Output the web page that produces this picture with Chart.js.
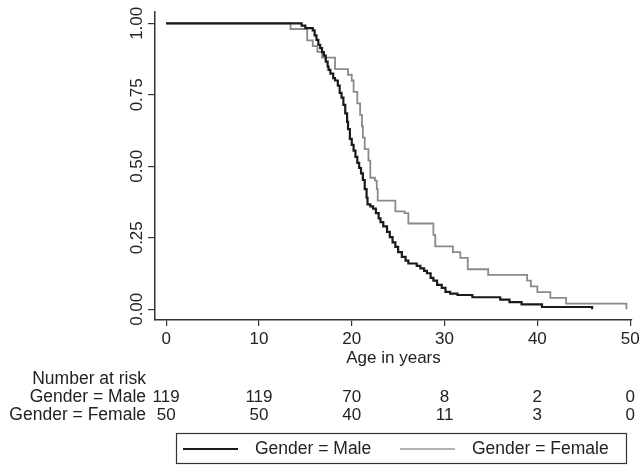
<!DOCTYPE html>
<html>
<head>
<meta charset="utf-8">
<script src="https://cdn.jsdelivr.net/npm/chart.js@4"></script>
<style>
  html, body { margin: 0; padding: 0; background: #fff; }
  #wrap { width: 640px; height: 468px; position: relative; }
</style>
</head>
<body>
<div id="wrap"><canvas id="myChart" width="640" height="468"></canvas></div>
<script>
// Kaplan-Meier steps (age in years, survival)
const maleTimes = [0, 14.6, 15.0, 15.8, 16.0, 16.2, 16.4, 16.6, 16.8, 17.0, 17.2, 17.4, 17.5, 17.7, 18.0, 18.2, 18.5, 18.7, 18.9, 19.1, 19.3, 19.5, 19.6, 19.8, 20.0, 20.2, 20.4, 20.6, 20.8, 21.0, 21.2, 21.4, 21.6, 21.7, 22.0, 22.3, 22.6, 22.9, 23.1, 23.4, 23.8, 24.1, 24.4, 24.7, 25.0, 25.4, 25.8, 26.1, 27.0, 27.4, 27.8, 28.1, 28.5, 28.8, 29.2, 29.7, 30.1, 30.6, 31.4, 33.0, 36.0, 37.0, 38.3, 40.5, 45.9];
const maleSurv  = [1, 0.992, 0.983, 0.975, 0.958, 0.942, 0.925, 0.913, 0.899, 0.887, 0.866, 0.849, 0.837, 0.824, 0.808, 0.800, 0.782, 0.757, 0.740, 0.715, 0.685, 0.655, 0.630, 0.596, 0.575, 0.555, 0.533, 0.512, 0.494, 0.475, 0.452, 0.420, 0.390, 0.367, 0.360, 0.352, 0.336, 0.318, 0.305, 0.290, 0.271, 0.252, 0.234, 0.218, 0.200, 0.183, 0.170, 0.160, 0.152, 0.143, 0.134, 0.126, 0.110, 0.100, 0.085, 0.075, 0.061, 0.055, 0.050, 0.042, 0.034, 0.025, 0.017, 0.008, 0];

const femaleTimes = [0, 13.4, 15.2, 15.8, 16.3, 16.8, 18.2, 19.6, 20.0, 20.2, 20.6, 20.9, 21.1, 21.2, 21.4, 21.8, 22.0, 22.5, 22.7, 22.8, 24.7, 25.7, 26.1, 28.8, 29.0, 30.9, 31.7, 32.5, 34.7, 38.9, 39.3, 40.0, 41.4, 43.1, 49.6];
const femaleSurv  = [1, 0.98, 0.94, 0.92, 0.90, 0.88, 0.84, 0.82, 0.80, 0.76, 0.72, 0.68, 0.64, 0.60, 0.56, 0.52, 0.46, 0.45, 0.42, 0.38, 0.342, 0.336, 0.30, 0.26, 0.22, 0.20, 0.18, 0.14, 0.12, 0.10, 0.08, 0.06, 0.04, 0.02, 0];

// Number at risk table
const riskTimes = [0, 10, 20, 30, 40, 50];
const maleAtRisk = [119, 119, 70, 8, 2, 0];
const femaleAtRisk = [50, 50, 40, 11, 3, 0];

const xTicks = [0, 10, 20, 30, 40, 50];
const yTicks = [0, 0.25, 0.5, 0.75, 1];
const yTickLabels = ['0.00', '0.25', '0.50', '0.75', '1.00'];

const seriesNames = ['Gender = Male', 'Gender = Female'];
const maleColor = '#1a1a1a';
const femaleColor = '#8a8a8a';
const FONT = '"Liberation Sans", Arial, Helvetica, sans-serif';

function toPoints(xs, ys) {
    return xs.map((x, i) => ({ x: x, y: ys[i] }));
}

// y-Achse: gedrehte Beschriftung, Risiko-Tabelle und Legende
const extrasPlugin = {
    id: 'extras',
    afterDraw(chart) {
        const ctx = chart.ctx;
        const xs = chart.scales.x;
        const ys = chart.scales.y;
        ctx.save();
        ctx.fillStyle = '#222';
        ctx.font = '17px ' + FONT;

        // rotated y tick labels
        yTicks.forEach((v, i) => {
            const py = ys.getPixelForValue(v);
            ctx.save();
            ctx.translate(142, py);
            ctx.rotate(-Math.PI / 2);
            ctx.textAlign = 'center';
            ctx.textBaseline = 'alphabetic';
            ctx.fillText(yTickLabels[i], 0, 0);
            ctx.restore();
        });

        // number at risk
        ctx.font = '17.5px ' + FONT;
        ctx.textBaseline = 'middle';
        ctx.textAlign = 'right';
        ctx.fillText('Number at risk', 146, 379);
        ctx.fillText(seriesNames[0], 146, 397);
        ctx.fillText(seriesNames[1], 146, 415);
        ctx.font = '17px ' + FONT;
        ctx.textAlign = 'center';
        riskTimes.forEach((t, i) => {
            const px = xs.getPixelForValue(t);
            ctx.fillText(String(maleAtRisk[i]), px, 397);
            ctx.fillText(String(femaleAtRisk[i]), px, 415);
        });

        // legend box
        ctx.strokeStyle = '#333';
        ctx.lineWidth = 1.2;
        ctx.strokeRect(176.5, 433.5, 450, 30);
        ctx.lineWidth = 2;
        ctx.strokeStyle = maleColor;
        ctx.beginPath(); ctx.moveTo(183, 449); ctx.lineTo(238, 449); ctx.stroke();
        ctx.lineWidth = 1.4;
        ctx.strokeStyle = '#999';
        ctx.beginPath(); ctx.moveTo(400, 449); ctx.lineTo(455, 449); ctx.stroke();
        ctx.font = '17.5px ' + FONT;
        ctx.textAlign = 'left';
        ctx.fillText(seriesNames[0], 255, 449);
        ctx.fillText(seriesNames[1], 472, 449);
        ctx.restore();
    }
};

const config = {
    type: 'line',
    data: {
        datasets: [
            {
                label: seriesNames[0],
                data: toPoints(maleTimes, maleSurv),
                borderColor: maleColor,
                borderWidth: 2.2,
                stepped: true,
                pointRadius: 0,
                fill: false
            },
            {
                label: seriesNames[1],
                data: toPoints(femaleTimes, femaleSurv),
                borderColor: femaleColor,
                borderWidth: 1.8,
                stepped: true,
                pointRadius: 0,
                fill: false
            }
        ]
    },
    options: {
        responsive: false,
        animation: false,
        layout: { padding: { left: 0, right: 8, top: 12, bottom: 97 } },
        plugins: { legend: { display: false }, tooltip: { enabled: false } },
        scales: {
            x: {
                type: 'linear',
                min: -1.2,
                max: 50.2,
                afterBuildTicks: s => { s.ticks = xTicks.map(v => ({ value: v })); },
                afterFit: s => { s.height = 51; s.paddingLeft = 0; s.paddingRight = 0; },
                grid: { drawOnChartArea: false, drawTicks: true, tickLength: 6, color: '#333', lineWidth: 1.2 },
                border: { display: true, color: '#333', width: 1.5 },
                ticks: { color: '#222', font: { family: FONT, size: 17 }, padding: 3, maxRotation: 0 },
                title: { display: true, text: 'Age in years', color: '#222', font: { family: FONT, size: 17 }, padding: { top: 0, bottom: 2 } }
            },
            y: {
                min: -0.0375,
                max: 1.0395,
                afterBuildTicks: s => { s.ticks = yTicks.map(v => ({ value: v })); },
                afterFit: s => { s.width = 155; s.paddingTop = 0; s.paddingBottom = 0; },
                grid: { drawOnChartArea: false, drawTicks: true, tickLength: 7, color: '#333', lineWidth: 1.2 },
                border: { display: true, color: '#333', width: 1.5 },
                ticks: { display: false }
            }
        }
    },
    plugins: [extrasPlugin]
};

const ctx = document.querySelector('#myChart').getContext('2d');
new Chart(ctx, config);
</script>
</body>
</html>
